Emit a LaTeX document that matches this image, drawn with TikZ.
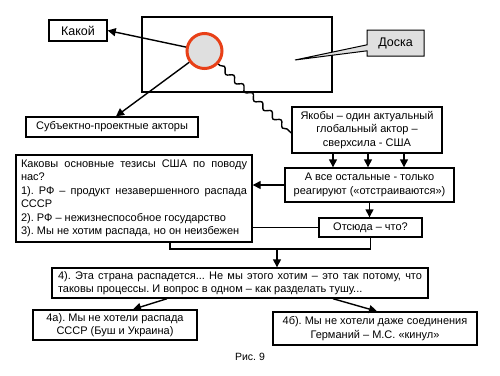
\documentclass[tikz,border=0pt]{standalone}
\usepackage{fontspec}
\setmainfont{Liberation Sans}
\usepackage{xcolor}
\usepackage{tikz}
\usetikzlibrary{arrows.meta, calc, positioning, shapes.geometric, shapes.callouts, decorations.pathmorphing}
\definecolor{ballred}{RGB}{232,64,24}
\frenchspacing

\begin{document}
\begin{tikzpicture}[x=1pt, y=-1pt,
  box/.style={draw, line width=1.4, fill=white, inner sep=2pt, align=center, font=\fontsize{11}{13.5}\selectfont},
  arr/.style={line width=1.4, -{Triangle[length=8pt, width=8pt]}},
  plain/.style={line width=1.4}]
  \useasboundingbox (0,0) rectangle (500,375);
  \node[draw, line width=1.6, minimum width=190, minimum height=75] (board) at (237,54.5) {};
  \node[circle, draw=ballred, line width=3, fill=gray!25, minimum size=35] (ball) at (204.5,51) {};
  \node[box, minimum width=58, minimum height=21, font=\fontsize{12.5}{14}\selectfont] (kakoy) at (78,30.5) {Какой};
  \node[rectangle callout, callout absolute pointer={(295,60)}, callout pointer width=6pt, draw, line width=1, fill=gray!25, minimum width=57, minimum height=26, font=\fontsize{12.5}{14}\selectfont] (doska) at (395.5,43) {Доска};
  \node[box, minimum width=172, minimum height=20] (subj) at (112,127) {Субъектно-проектные акторы};
  \node[box, minimum width=150, minimum height=46] (yakoby) at (367,130) {Якобы – один актуальный\\глобальный актор –\\сверхсила - США};
  \node[box, minimum width=169, minimum height=34] (avse) at (369.5,185) {А все остальные - только\\реагируют («отстраиваются»)};
  \node[box, minimum width=236, minimum height=87, text width=226, align=justify] (kakovy) at (134,198.5) {\hyphenpenalty=10000 Каковы основные тезисы США по поводу нас?\\1). РФ – продукт незавершенного распада СССР\\2). РФ – нежизнеспособное государство\\3). Мы не хотим распада, но он неизбежен};
  \node[box, minimum width=103, minimum height=19] (otsyuda) at (370.5,227.5) {Отсюда – что?};
  \node[box, minimum width=376, minimum height=30, text width=364, align=justify] (four) at (240,283) {\hyphenpenalty=10000 4). Эта страна распадется... Не мы этого хотим – это так потому, что таковы процессы. И вопрос в одном – как разделать тушу...};
  \node[box, minimum width=164, minimum height=30] (foura) at (115,325) {4а). Мы не хотели распада\\СССР (Буш и Украина)};
  \node[box, minimum width=204, minimum height=33] (fourb) at (375,328.5) {4б). Мы не хотели даже соединения\\Германий – М.С. «кинул»};
  \node[font=\fontsize{10.5}{12}\selectfont] (caption) at (250,357) {Рис. 9};
  \coordinate (join) at (277,249);

  \draw[arr] (ball) -- (kakoy.east);
  \draw[arr] (ball) -- ([xshift=4]subj.north);
  \draw[plain, decorate, decoration={snake, segment length=13, amplitude=2.5, pre length=2, post length=2}] (ball) -- ([yshift=-3]yakoby.west);
  \foreach \dx in {-34,1,37}
    \draw[arr] ([xshift=\dx]yakoby.south) -- ([xshift=\dx]yakoby.south |- avse.north);
  \draw[arr] (avse.west) -- (avse.west -| kakovy.east);
  \draw[arr] (avse.south) -- (avse.south |- otsyuda.north);
  \draw[plain] (otsyuda.west) -- (otsyuda.west -| kakovy.east);
  \draw[plain] ([xshift=36]kakovy.south) |- (join) -| (otsyuda.south);
  \draw[arr] (join) -- (join |- four.north);
  \draw[arr] ([xshift=-73]four.south) -- ([xshift=18]foura.north);
  \draw[arr] ([xshift=93]four.south) -- ([xshift=2]fourb.north);
\end{tikzpicture}
\end{document}
